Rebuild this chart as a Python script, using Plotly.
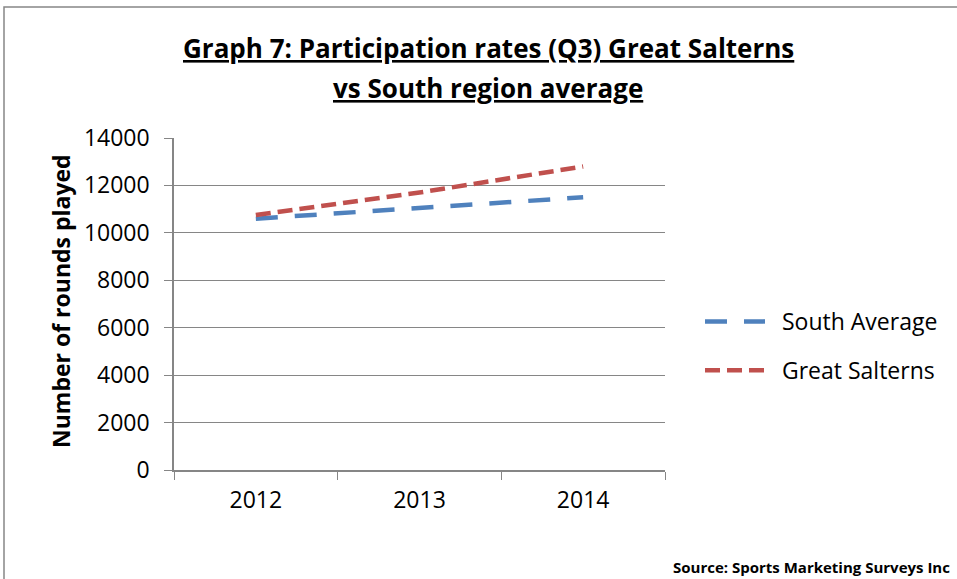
import plotly.graph_objects as go

years = ["2012", "2013", "2014"]
south_average = [10600, 11050, 11500]
great_salterns = [10750, 11700, 12800]
y_ticks = [0, 2000, 4000, 6000, 8000, 10000, 12000, 14000]

FONT = "Open Sans"
W, H = 957, 579
L, R, T, B = 174, 292, 138, 109
pw, ph = W - L - R, H - T - B

def px_x(px):
    return (px - L) / pw

def px_y(py):
    return (H - B - py) / ph

NB = "\u00a0\u00a0"

fig = go.Figure()
fig.add_trace(go.Scatter(x=years, y=south_average, mode="lines", name=NB + "South Average",
                         legendgroup="a",
                         line=dict(color="#4F81BD", width=4.5, dash="22px,17px")))
fig.add_trace(go.Scatter(x=years, y=great_salterns, mode="lines", name=NB + "Great Salterns",
                         legendgroup="b",
                         line=dict(color="#C0504D", width=4.5, dash="15px,7px")))

fig.update_layout(
    width=W, height=H,
    margin=dict(l=L, r=R, t=T, b=B),
    paper_bgcolor="white", plot_bgcolor="white",
    font=dict(family=FONT, color="black"),
    showlegend=True,
    legend=dict(x=px_x(700), y=px_y(346), xanchor="left", yanchor="middle",
                font=dict(size=23, family=FONT), traceorder="grouped", tracegroupgap=16,
                itemwidth=60, bgcolor="rgba(0,0,0,0)"),
    xaxis=dict(type="category", showgrid=False, showline=True, linecolor="#868686", linewidth=1.5,
               ticks="outside", tickson="boundaries", ticklen=8, tickcolor="#868686",
               ticklabelstandoff=9,
               tickfont=dict(size=23, family=FONT), range=[-0.5, 2.5]),
    yaxis=dict(range=[0, 14000], tickvals=y_ticks, tickformat="d", showgrid=True,
               gridcolor="#868686", gridwidth=1.3,
               showline=True, linecolor="#868686", linewidth=1.5, ticks="outside", ticklen=8,
               ticklabelstandoff=10,
               tickcolor="#868686", tickfont=dict(size=23, family=FONT), zeroline=False),
)

fig.add_annotation(text="<b><u>Graph 7: Participation rates (Q3) Great Salterns</u></b>",
                   xref="paper", yref="paper", x=px_x(488), y=px_y(48),
                   xanchor="center", yanchor="middle", showarrow=False,
                   font=dict(size=26, family=FONT))
fig.add_annotation(text="<b><u>vs South region average</u></b>",
                   xref="paper", yref="paper", x=px_x(488), y=px_y(88),
                   xanchor="center", yanchor="middle", showarrow=False,
                   font=dict(size=26, family=FONT))
fig.add_annotation(text="<b>Number of rounds played</b>", textangle=-90,
                   xref="paper", yref="paper", x=px_x(61), y=px_y(301),
                   xanchor="center", yanchor="middle", showarrow=False,
                   font=dict(size=23, family=FONT))

fig.add_shape(type="rect", xref="paper", yref="paper",
              x0=px_x(4), x1=px_x(1100), y0=px_y(700), y1=px_y(7),
              line=dict(color="#868686", width=1.5), fillcolor="rgba(0,0,0,0)", layer="below")

fig.add_annotation(text="<b>Source: Sports Marketing Surveys Inc</b>", xref="paper", yref="paper",
                   x=px_x(671), y=px_y(567), xanchor="left", yanchor="middle", showarrow=False,
                   font=dict(size=15, family=FONT))

fig.write_html("out.html", config={"displayModeBar": False},
               post_script="document.body.style.margin='0';")
